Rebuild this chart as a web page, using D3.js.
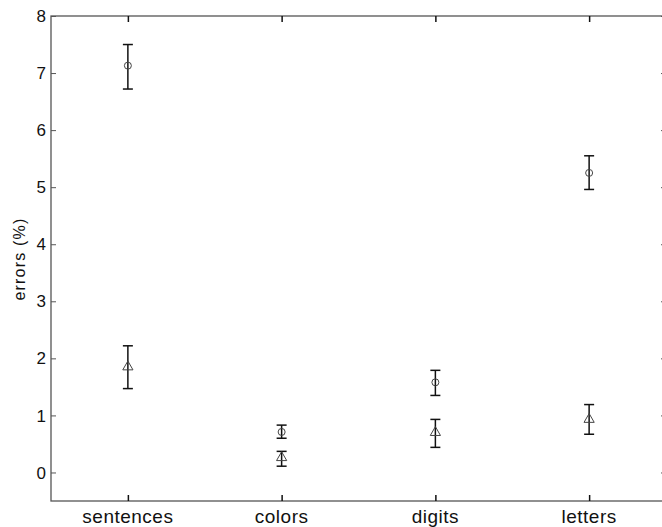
<!DOCTYPE html>
<html>
<head>
<meta charset="utf-8">
<script src="https://cdn.jsdelivr.net/npm/d3@7"></script>
<style>
  body { margin: 0; background: #fff; }
  svg { display: block; font-family: "Liberation Sans", Arial, sans-serif; }
</style>
</head>
<body>
<svg id="chart" width="662" height="527"></svg>
<script>
// Data
const categories = ["sentences", "colors", "digits", "letters"];
const yTicks = [0, 1, 2, 3, 4, 5, 6, 7, 8];

// circle series (mean, lower, upper)
const circleMean = [7.13, 0.71, 1.58, 5.25];
const circleLow  = [6.72, 0.60, 1.35, 4.96];
const circleHigh = [7.50, 0.83, 1.79, 5.55];

// triangle series (mean, lower, upper)
const triMean = [1.85, 0.26, 0.70, 0.93];
const triLow  = [1.47, 0.11, 0.44, 0.67];
const triHigh = [2.22, 0.37, 0.93, 1.19];

const svg = d3.select("#chart");
const margin = {left: 51, top: 16, right: 666, bottom: 501};

const x = d3.scaleLinear().domain([0.5, 4.5]).range([margin.left, margin.right]);
const y = d3.scaleLinear().domain([-0.5, 8]).range([margin.bottom, margin.top]);

const axisColor = "#555";
const tickLen = 5;

// frame
svg.append("rect")
    .attr("x", x(0.5)).attr("y", y(8))
    .attr("width", x(4.5) - x(0.5)).attr("height", y(-0.5) - y(8))
    .attr("fill", "none").attr("stroke", axisColor).attr("stroke-width", 1.3);

// y axis (ticks inward)
const yAxis = svg.append("g")
    .attr("transform", `translate(${x(0.5)},0)`)
    .call(d3.axisRight(y).tickValues(yTicks).tickSize(tickLen).tickFormat(""));
yAxis.select(".domain").remove();
yAxis.selectAll("line").attr("stroke", axisColor);

svg.append("g").selectAll("text")
    .data(yTicks).enter().append("text")
    .attr("x", x(0.5) - 5)
    .attr("y", d => y(d))
    .attr("dy", "0.36em")
    .attr("text-anchor", "end")
    .attr("font-size", 17)
    .attr("fill", "#111")
    .text(d => d);

// right ticks
const yAxisR = svg.append("g")
    .attr("transform", `translate(${x(4.5)},0)`)
    .call(d3.axisLeft(y).tickValues(yTicks).tickSize(tickLen).tickFormat(""));
yAxisR.select(".domain").remove();
yAxisR.selectAll("line").attr("stroke", axisColor);

// x axis ticks (bottom and top, inward)
const xAxis = svg.append("g")
    .attr("transform", `translate(0,${y(-0.5)})`)
    .call(d3.axisTop(x).tickValues([1, 2, 3, 4]).tickSize(6).tickFormat(""));
xAxis.select(".domain").remove();
xAxis.selectAll("line").attr("stroke", "#111").attr("stroke-width", 1.5);

const xAxisTop = svg.append("g")
    .attr("transform", `translate(0,${y(8)})`)
    .call(d3.axisBottom(x).tickValues([1, 2, 3, 4]).tickSize(6).tickFormat(""));
xAxisTop.select(".domain").remove();
xAxisTop.selectAll("line").attr("stroke", "#111").attr("stroke-width", 1.5);

svg.append("g").selectAll("text")
    .data(categories).enter().append("text")
    .attr("x", (d, i) => x(i + 1))
    .attr("y", y(-0.5) + 22)
    .attr("text-anchor", "middle")
    .attr("font-size", 19)
    .attr("letter-spacing", "0.5px")
    .attr("fill", "#111")
    .text(d => d);

// y label
svg.append("text")
    .attr("transform", "translate(25,259) rotate(-90)")
    .attr("text-anchor", "middle")
    .attr("font-size", 16)
    .attr("letter-spacing", "1.2px")
    .attr("fill", "#111")
    .text("errors (%)");

// error bars
function drawErrors(mean, low, high) {
    const g = svg.append("g").attr("stroke", "#111").attr("stroke-width", 1.5);
    const capW = 5;
    mean.forEach((m, i) => {
        const cx = x(i + 1);
        g.append("line").attr("x1", cx).attr("x2", cx).attr("y1", y(low[i])).attr("y2", y(high[i]));
        g.append("line").attr("x1", cx - capW).attr("x2", cx + capW).attr("y1", y(low[i])).attr("y2", y(low[i]));
        g.append("line").attr("x1", cx - capW).attr("x2", cx + capW).attr("y1", y(high[i])).attr("y2", y(high[i]));
    });
}
drawErrors(circleMean, circleLow, circleHigh);
drawErrors(triMean, triLow, triHigh);

// markers
svg.append("g").selectAll("circle")
    .data(circleMean).enter().append("circle")
    .attr("cx", (d, i) => x(i + 1))
    .attr("cy", d => y(d))
    .attr("r", 3.5)
    .attr("fill", "none")
    .attr("stroke", "#444")
    .attr("stroke-width", 1);

const tri = d3.symbol().type(d3.symbolTriangle).size(45);
svg.append("g").selectAll("path")
    .data(triMean).enter().append("path")
    .attr("transform", (d, i) => `translate(${x(i + 1)},${y(d)})`)
    .attr("d", tri)
    .attr("fill", "none")
    .attr("stroke", "#444")
    .attr("stroke-width", 1);
</script>
</body>
</html>
